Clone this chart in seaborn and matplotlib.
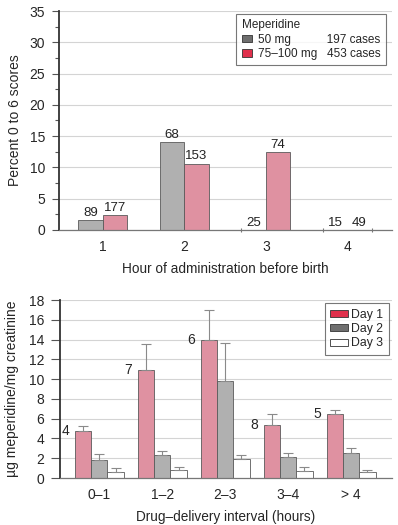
import numpy as np
import pandas as pd
import matplotlib
matplotlib.use('Agg')
import matplotlib.pyplot as plt
import matplotlib.patches as mpatches
from matplotlib.ticker import MultipleLocator
import seaborn as sns

# data - top panel
hours = ['1', '2', '3', '4']
pct_50 = [1.6, 14.0, 0.0, 0.0]
pct_75 = [2.4, 10.6, 12.4, 0.0]
n_50 = ['89', '68', '25', '15']
n_75 = ['177', '153', '74', '49']

# data - bottom panel
intervals = ['0\u20131', '1\u20132', '2\u20133', '3\u20134', '> 4']
day1 = [4.8, 10.9, 14.0, 5.4, 6.45]
day2 = [1.85, 2.35, 9.8, 2.1, 2.55]
day3 = [0.65, 0.85, 1.9, 0.7, 0.6]
day1_top = [5.3, 13.6, 17.0, 6.5, 6.85]
day2_top = [2.4, 2.75, 13.7, 2.55, 3.0]
day3_top = [1.0, 1.1, 2.3, 1.1, 0.85]
n_day1 = ['4', '7', '6', '8', '5']

PINK = '#ec8499'
GRAY = '#b0b0b0'
EDGE = '#5a5a5a'

sns.set_theme(style='white')
plt.rcParams['font.family'] = ['Liberation Sans', 'DejaVu Sans']
plt.rcParams['font.size'] = 10

fig = plt.figure(figsize=(3.98, 5.25), dpi=100)
ax1 = fig.add_axes([0.148, 0.562, 0.837, 0.417])
ax2 = fig.add_axes([0.151, 0.0895, 0.834, 0.339])

# ---- top panel
top = pd.DataFrame({
    'hour': hours * 2,
    'pct': pct_50 + pct_75,
    'dose': ['50 mg'] * 4 + ['75-100 mg'] * 4,
})
sns.barplot(data=top, x='hour', y='pct', hue='dose', palette=[GRAY, PINK],
            width=0.6, gap=0, edgecolor=EDGE, linewidth=0.6, legend=False, ax=ax1)
for cont, labs in zip(ax1.containers, [n_50, n_75]):
    ax1.bar_label(cont, labels=labs, padding=1, fontsize=9.5, color='#222222')

# zero-height bars leave small ticks on the axis line
zero_x = []
for p in ax1.patches:
    if p.get_height() == 0:
        zero_x += [p.get_x(), p.get_x() + p.get_width()]
ax1.set_xticks(sorted(set(np.round(zero_x, 3))), minor=True)

ax1.set_ylim(0, 35)
ax1.set_xlim(-0.54, 3.55)
ax1.yaxis.set_major_locator(MultipleLocator(5))
ax1.yaxis.set_minor_locator(MultipleLocator(2.5))
ax1.set_ylabel('Percent 0 to 6 scores', fontsize=10, labelpad=5)
ax1.set_xlabel('Hour of administration before birth', fontsize=9.8, labelpad=6)

h1 = [mpatches.Patch(facecolor='#6e6e6e', edgecolor='#333333', linewidth=0.6),
      mpatches.Patch(facecolor='#e0304c', edgecolor='#333333', linewidth=0.6)]
leg1 = ax1.legend(h1, ['50 mg' + ' ' * 11 + '197 cases', '75\u2013100 mg   453 cases'],
                  title='Meperidine', loc='upper right', bbox_to_anchor=(0.982, 0.986),
                  borderaxespad=0, fontsize=8.5, title_fontsize=8.5, frameon=True,
                  fancybox=False, handlelength=0.9, handleheight=0.55, handletextpad=0.5,
                  borderpad=0.45, labelspacing=0.2)
leg1._legend_box.align = 'left'
leg1.get_frame().set_edgecolor('#555555')
leg1.get_frame().set_linewidth(0.8)

# ---- bottom panel
bot = pd.DataFrame({
    'interval': intervals * 3,
    'val': day1 + day2 + day3,
    'day': ['Day 1'] * 5 + ['Day 2'] * 5 + ['Day 3'] * 5,
})
sns.barplot(data=bot, x='interval', y='val', hue='day', palette=[PINK, GRAY, 'white'],
            width=0.78, gap=0, edgecolor=EDGE, linewidth=0.6, legend=False, ax=ax2)
for cont, vals, tops in zip(ax2.containers, [day1, day2, day3], [day1_top, day2_top, day3_top]):
    xs = [p.get_x() + p.get_width() / 2 for p in cont.patches]
    err = np.array(tops) - np.array(vals)
    ax2.errorbar(xs, vals, yerr=[np.zeros_like(err), err], fmt='none',
                 ecolor='#8a8a8a', elinewidth=0.8, capsize=3.5, capthick=0.8, zorder=1)
for p, lab in zip(ax2.containers[0].patches, n_day1):
    ax2.annotate(lab, (p.get_x(), p.get_height()), xytext=(-4, 0),
                 textcoords='offset points', ha='right', va='center', fontsize=10)

ax2.set_ylim(0, 18)
ax2.set_xlim(-0.62, 4.65)
ax2.yaxis.set_major_locator(MultipleLocator(2))
ax2.set_ylabel('\u00b5g meperidine/mg creatinine', fontsize=10, labelpad=7)
ax2.set_xlabel('Drug\u2013delivery interval (hours)', fontsize=9.8, labelpad=6)

h2 = [mpatches.Patch(facecolor='#e0304c', edgecolor='#333333', linewidth=0.6),
      mpatches.Patch(facecolor='#6e6e6e', edgecolor='#333333', linewidth=0.6),
      mpatches.Patch(facecolor='white', edgecolor='#333333', linewidth=0.6)]
leg2 = ax2.legend(h2, ['Day 1', 'Day 2', 'Day 3'], loc='upper right',
                  bbox_to_anchor=(0.99, 0.983), borderaxespad=0, fontsize=8.8,
                  frameon=True, fancybox=False, handlelength=1.4, handleheight=0.5,
                  handletextpad=0.3, borderpad=0.45, labelspacing=0.2)
leg2.get_frame().set_edgecolor('#555555')
leg2.get_frame().set_linewidth(0.8)

for ax, tlen in ((ax1, 5), (ax2, 6.5)):
    sns.despine(ax=ax)
    ax.set_axisbelow(True)
    ax.yaxis.grid(True, color='#d4d4d4', linewidth=0.8)
    ax.spines['left'].set_color('#333333')
    ax.spines['left'].set_linewidth(1.3)
    ax.spines['bottom'].set_color('#777777')
    ax.spines['bottom'].set_linewidth(0.9)
    ax.tick_params(axis='y', which='major', left=True, length=tlen, width=0.8,
                   color='#555555', labelsize=10, pad=5)
    ax.tick_params(axis='y', which='minor', left=True, length=3, width=0.8, color='#555555')
    ax.tick_params(axis='x', which='major', bottom=False, labelsize=10, pad=1)
    ax.tick_params(axis='x', which='minor', bottom=True, length=3, direction='inout',
                   width=0.8, color='#777777')

fig.savefig('out.png', dpi=100)
